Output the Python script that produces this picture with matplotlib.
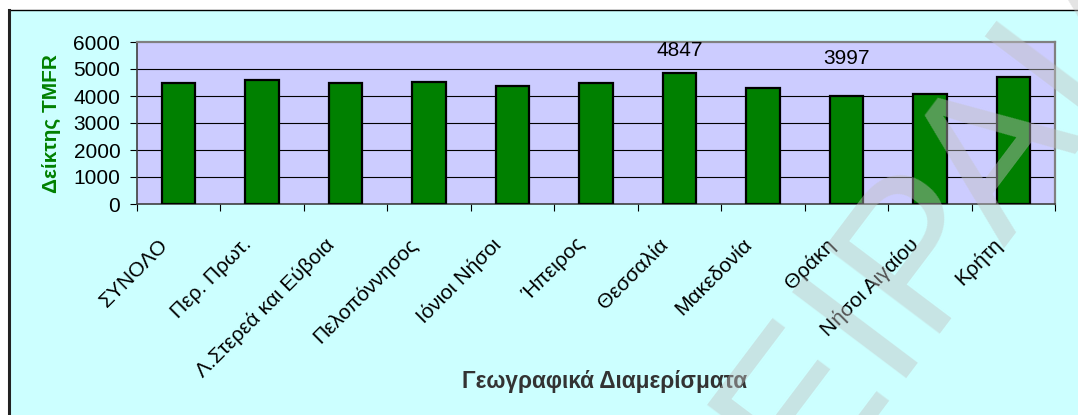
import numpy as np
import matplotlib
matplotlib.use("Agg")
import matplotlib.pyplot as plt
import matplotlib.transforms as mtrans
from matplotlib.patches import Rectangle
from matplotlib.lines import Line2D

categories = ['ΣΥΝΟΛΟ', 'Περ. Πρωτ.', 'Λ.Στερεά και Εύβοια', 'Πελοπόννησος',
              'Ιόνιοι Νήσοι', 'Ήπειρος', 'Θεσσαλία', 'Μακεδονία', 'Θράκη',
              'Νήσοι Αιγαίου', 'Κρήτη']
values = [4490, 4600, 4470, 4530, 4370, 4490, 4847, 4310, 3997, 4080, 4690]
yticks = [0, 1000, 2000, 3000, 4000, 5000, 6000]
labelled_idx = [6, 8]
ylabel = 'Δείκτης TMFR'
xlabel = 'Γεωγραφικά Διαμερίσματα'
watermark = 'ΠΕΙΡΑΙΑ'

plt.rcParams['font.family'] = ['Liberation Sans', 'DejaVu Sans']

W, H = 1078, 415
fig = plt.figure(figsize=(W / 100, H / 100), dpi=100)
fig.patch.set_facecolor('white')

# chart area background with borders (top / left visible)
fig.patches.append(Rectangle((9 / W, 0), 1 - 9 / W, (H - 10) / H,
                             transform=fig.transFigure, facecolor='#CCFFFF',
                             edgecolor='none', zorder=-10))
fig.lines.append(Line2D([9 / W, 1], [(H - 10) / H] * 2, transform=fig.transFigure,
                        color='black', lw=1.0))
fig.lines.append(Line2D([9 / W] * 2, [0, (H - 10) / H], transform=fig.transFigure,
                        color='#222222', lw=2.2))

ax = fig.add_axes([137 / W, (H - 204) / H, (1055 - 137) / W, (204 - 42) / H])
ax.set_facecolor('#CCCCFF')

x = np.arange(len(categories))
ax.bar(x, values, width=0.4, color='#008000', edgecolor='black', linewidth=1.6, zorder=3)

ax.set_xlim(-0.5, len(categories) - 0.5)
ax.set_ylim(yticks[0], yticks[-1])
ax.set_yticks(yticks)
ax.set_yticklabels([str(v) for v in yticks])
for v in yticks[1:-1]:
    ax.axhline(v, color='black', lw=0.8, zorder=1)

ax.tick_params(axis='y', direction='out', length=5, width=0.8, labelsize=15, pad=7)
ax.set_xticks(x)
ax.set_xticklabels(categories, rotation=45, ha='right', va='center',
                   rotation_mode='anchor', fontsize=15)
ax.tick_params(axis='x', length=0, pad=27)
shift = mtrans.ScaledTranslation(-14 / 100, 0, fig.dpi_scale_trans)
for lab in ax.get_xticklabels():
    lab.set_transform(lab.get_transform() + shift)
ax.set_xticks(np.arange(-0.5, len(categories), 1), minor=True)
ax.tick_params(axis='x', which='minor', direction='out', length=5, width=0.8)

for s in ['top', 'right']:
    ax.spines[s].set_color('#808080')
    ax.spines[s].set_linewidth(1.6)
for s in ['left', 'bottom']:
    ax.spines[s].set_color('#404040')
    ax.spines[s].set_linewidth(1.2)

# data labels (two points)
offsets = {6: 23, 8: 38}
for i in labelled_idx:
    ax.annotate(str(values[i]), (x[i], values[i]), xytext=(0, offsets[i] * 0.72),
                textcoords='offset points', ha='center', va='center', fontsize=15,
                color='black', zorder=5)

fig.text(51 / W, 1 - 123.5 / H, ylabel, rotation=90, ha='center', va='center',
         color='#008000', fontweight='bold', fontsize=15)
fig.text(605 / W, 1 - 381 / H, xlabel, ha='center', va='center',
         color='#333333', fontweight='bold', fontsize=16.3)

fig.text(915 / W, 1 - 255 / H, watermark, rotation=53, ha='center', va='center',
         rotation_mode='anchor', fontsize=150, color=(0.76, 0.76, 0.76),
         alpha=0.44, zorder=20)

fig.savefig('out.png', dpi=100, facecolor=fig.get_facecolor())
